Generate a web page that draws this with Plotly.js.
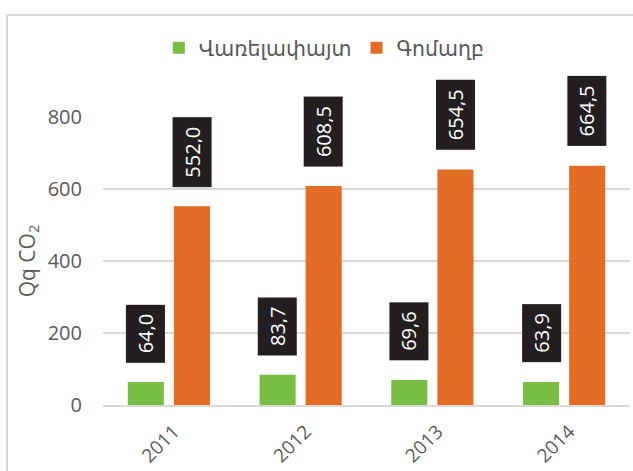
<!DOCTYPE html>
<html><head><meta charset="utf-8">
<script src="https://cdn.plot.ly/plotly-3.0.1.min.js"></script>
<style>
html,body{margin:0;padding:0;background:#fff;}
#wrap{position:relative;width:633px;height:471px;overflow:hidden;}
#frame{position:absolute;left:6px;top:14px;width:700px;height:600px;border:2px solid #d9d9d9;box-sizing:border-box;}
#chart{position:absolute;left:0;top:0;width:633px;height:471px;}
</style></head>
<body><div id="wrap"><div id="frame"></div><div id="chart"></div></div>
<script>
const years = ['2011','2012','2013','2014'];
const firewood = [64.0, 83.7, 69.6, 63.9];
const manure = [552.0, 608.5, 654.5, 664.5];
const seriesNames = ['Վառելափայտ','Գոմաղբ'];
const yTitle = 'Qq CO<sub>2</sub>';
const yTicks = [0,200,400,600,800];

const fontFam = 'Open Sans, Noto Sans, DejaVu Sans, sans-serif';
const gray = '#595959';
const fmt = v => v.toFixed(1).replace('.', ',');

const traces = [
  {type:'bar', name:seriesNames[0], x:years, y:firewood, marker:{color:'#78BE43'}},
  {type:'bar', name:seriesNames[1], x:years, y:manure, marker:{color:'#E46C25'}}
];

const annotations = [];
[[firewood,-23],[manure,23]].forEach(([arr,shift])=>{
  arr.forEach((v,i)=>{
    annotations.push({
      x: i, y: v, xref:'x', yref:'y', xshift: shift, yshift: 19,
      xanchor:'center', yanchor:'bottom', showarrow:false,
      text: fmt(v), textangle:-90,
      font:{family:fontFam, size:20, color:'#ffffff'},
      bgcolor:'#231f20', borderpad:9, height:20
    });
  });
});

const layout = {
  width:633, height:471,
  margin:{l:103, r:3, t:117, b:66},
  paper_bgcolor:'rgba(0,0,0,0)', plot_bgcolor:'rgba(0,0,0,0)',
  font:{family:fontFam, color:gray},
  barmode:'group', bargap:0.30, bargroupgap:0.217,
  showlegend:true,
  legend:{orientation:'h', x:0.42, xanchor:'center', y:1.24, yanchor:'middle',
    font:{family:fontFam, size:20.5, color:gray}, traceorder:'normal'},
  xaxis:{type:'category', range:[-0.5,3.5], tickangle:-45, tickfont:{size:19, color:gray},
    ticklabelstandoff:6, ticklabelshift:5,
    showline:true, linecolor:'#d9d9d9', linewidth:2, ticks:'', showgrid:false, zeroline:false},
  yaxis:{range:[0,800], tickvals:yTicks, tickfont:{size:20, color:gray},
    showgrid:true, gridcolor:'#d9d9d9', gridwidth:1.5, zeroline:false, ticks:'',
    ticklabelstandoff:20,
    title:{text:yTitle, font:{size:21, color:gray}, standoff:6}},
  annotations: annotations
};
Plotly.newPlot('chart', traces, layout, {staticPlot:true});
</script></body></html>
